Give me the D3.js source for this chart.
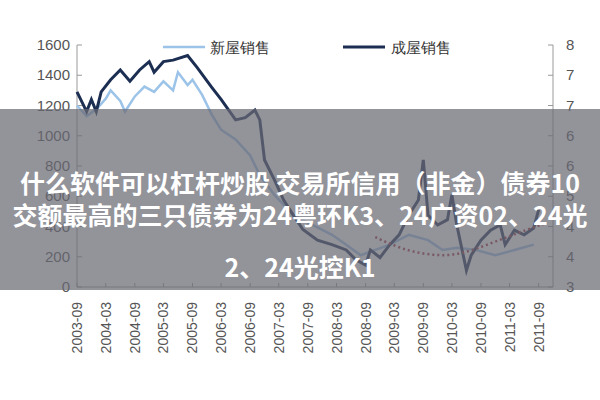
<!DOCTYPE html>
<html><head><meta charset="utf-8">
<script src="https://cdn.jsdelivr.net/npm/d3@7"></script>
<style>body{margin:0;background:#fff}</style>
</head><body><div id="chart"></div>
<script>
// 成屋销售 (dark)
const existingSales = [
["2003-09",1290],["2003-11",1160],["2003-12",1240],["2004-01",1160],["2004-02",1290],["2004-04",1370],
["2004-06",1435],["2004-08",1360],["2004-10",1435],["2004-12",1490],["2005-01",1420],["2005-03",1490],
["2005-05",1500],["2005-08",1530],["2005-10",1450],["2006-01",1320],["2006-03",1240],["2006-06",1105],
["2006-08",1120],["2006-10",1170],["2006-11",1105],["2006-12",840],["2007-02",710],["2007-04",575],
["2007-06",475],["2007-08",380],["2007-11",310],["2008-02",280],["2008-05",245],["2008-07",180],
["2008-09",145],["2008-10",245],["2008-12",195],["2009-02",280],["2009-04",345],["2009-06",475],
["2009-08",575],["2009-09",840],["2009-10",475],["2009-12",410],["2010-02",445],["2010-03",610],
["2010-04",410],["2010-06",110],["2010-07",210],["2010-09",310],["2010-11",375],["2011-01",410],
["2011-02",280],["2011-04",375],["2011-06",345],["2011-08",390],["2011-09",510]]
// 新屋销售 (light)
const newSales = [
["2003-09",1200],["2003-11",1130],["2004-01",1175],["2004-03",1245],["2004-04",1300],["2004-06",1230],
["2004-07",1160],["2004-09",1260],["2004-11",1325],["2005-01",1290],["2005-03",1360],["2005-05",1300],
["2005-06",1420],["2005-08",1335],["2005-09",1370],["2005-11",1270],["2006-01",1140],["2006-03",1040],
["2006-06",975],["2006-09",870],["2006-11",740],["2007-02",610],["2007-06",475],["2007-10",410],
["2008-02",345],["2008-05",280],["2008-08",210],["2008-11",245],["2009-02",280],["2009-06",345],
["2009-10",310],["2010-01",245],["2010-04",260],["2010-08",245],["2010-12",210],["2011-04",245],["2011-08",280]]
// dotted trend, right axis
const trend = [["2008-11",4.03],["2009-03",3.85],["2009-07",3.72],["2009-11",3.66],["2010-03",3.65],
["2010-07",3.75],["2010-11",3.9],["2011-03",4.05],["2011-07",4.2],["2011-10",4.3]]
const xTickLabels = ["2003-09","2004-03","2004-09","2005-03","2005-09","2006-03","2006-09","2007-03","2007-09",
"2008-03","2008-09","2009-03","2009-09","2010-03","2010-09","2011-03","2011-09"]
const leftTicks = [0,200,400,600,800,1000,1200,1400,1600]
const rightTickLabels = ["3","4","4","5","6","6","7","7","8"]
const overlayLines = ["什么软件可以杠杆炒股 交易所信用（非金）债券10","交额最高的三只债券为24粤环K3、24广资02、24光","2、24光控K1"]

const parse = d3.timeParse("%Y-%m")
const svg = d3.select("#chart").append("svg").attr("width",600).attr("height",400)
  .style("font-family","'Liberation Sans',Arial,sans-serif")

const x = d3.scaleTime().domain([parse("2003-09"),parse("2011-12")]).range([77,553])
const y = d3.scaleLinear().domain([0,1600]).range([287,45])
const y2 = d3.scaleLinear().domain([3,8]).range([287,45])

const axisColor = "#999"
const ga = svg.append("g")
ga.append("line").attr("x1",77).attr("x2",77).attr("y1",45).attr("y2",287).attr("stroke",axisColor)
ga.append("line").attr("x1",553).attr("x2",553).attr("y1",45).attr("y2",287).attr("stroke",axisColor)
ga.append("line").attr("x1",77).attr("x2",553).attr("y1",287).attr("y2",287).attr("stroke",axisColor)
leftTicks.forEach((v,i) => {
  ga.append("line").attr("x1",77).attr("x2",82).attr("y1",y(v)).attr("y2",y(v)).attr("stroke",axisColor)
  ga.append("text").text(v).attr("x",70).attr("y",y(v)+5).attr("text-anchor","end")
    .attr("font-size",15).attr("fill","#555")
  const rv = 3 + i*5/8
  ga.append("line").attr("x1",548).attr("x2",553).attr("y1",y2(rv)).attr("y2",y2(rv)).attr("stroke",axisColor)
  ga.append("text").text(rightTickLabels[i]).attr("x",566).attr("y",y2(rv)+5)
    .attr("font-size",15).attr("fill","#555")
})
xTickLabels.forEach(t => {
  const px = x(parse(t))
  ga.append("line").attr("x1",px).attr("x2",px).attr("y1",283).attr("y2",287).attr("stroke",axisColor)
  ga.append("text").text(t).attr("transform",`translate(${px+5},302) rotate(-90)`)
    .attr("text-anchor","end").attr("font-size",14).attr("fill","#555")
})

const line = d3.line().x(d => x(parse(d[0]))).y(d => y(d[1]))
svg.append("path").datum(newSales).attr("d",line).attr("fill","none")
  .attr("stroke","#9cc3e8").attr("stroke-width",2.5)
svg.append("path").datum(existingSales).attr("d",line).attr("fill","none")
  .attr("stroke","#1c2f52").attr("stroke-width",3)
svg.append("path").datum(trend).attr("d",d3.line().curve(d3.curveBasis).x(d => x(parse(d[0]))).y(d => y2(d[1])))
  .attr("fill","none").attr("stroke","#a0303a").attr("stroke-width",2.5).attr("stroke-dasharray","2,3")

// legend
const leg = svg.append("g").attr("font-size",15).attr("fill","#333")
leg.append("line").attr("x1",163).attr("x2",205).attr("y1",47).attr("y2",47).attr("stroke","#9cc3e8").attr("stroke-width",2.5)
leg.append("text").text("新屋销售").attr("x",210).attr("y",53)
leg.append("line").attr("x1",343).attr("x2",385).attr("y1",47).attr("y2",47).attr("stroke","#1c2f52").attr("stroke-width",3)
leg.append("text").text("成屋销售").attr("x",391).attr("y",53)

// overlay band
svg.append("rect").attr("x",0).attr("y",109).attr("width",600).attr("height",181).attr("fill","rgba(105,105,115,0.72)")
const ov = svg.append("g").attr("font-family","'Noto Sans CJK SC',sans-serif").attr("font-weight","bold")
  .attr("font-size",25).attr("fill","#fff").attr("text-anchor","middle")
;[193,225,277].forEach((ty,i) => ov.append("text").text(overlayLines[i]).attr("x",300).attr("y",ty))
</script></body></html>
